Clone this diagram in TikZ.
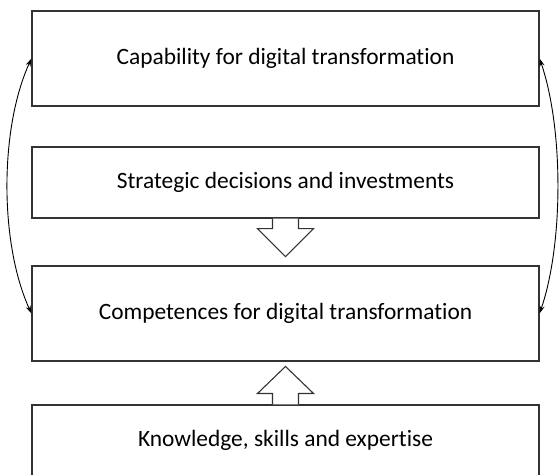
\documentclass[tikz,border=0pt]{standalone}
\usepackage{fontspec}
\setmainfont{Carlito}[Ligatures=NoCommon]
\usetikzlibrary{arrows.meta}
\begin{document}
\begin{tikzpicture}[x=1pt,y=-1pt,
  box/.style={draw=black!80,line width=1.1pt,fill=white,minimum width=507pt,inner sep=0pt,
    font=\fontsize{23.4}{28}\selectfont},
  tallbox/.style={box,minimum height=95pt},
  shortbox/.style={box,minimum height=71pt},
  loop/.style={line width=0.9pt,{Stealth[length=8pt,width=5pt]}-{Stealth[length=8pt,width=5pt]}},
  hollow/.style={draw=black!80,line width=1.1pt,fill=white,line join=miter}]
\useasboundingbox (0,0) rectangle (559,474);
\clip (0,0) rectangle (559,474);
\node[tallbox] (cap) at (285.5,58.5) {Capability for digital transformation};
\node[shortbox] (strat) at (285.5,182.5) {Strategic decisions and investments};
\node[tallbox] (comp) at (285.5,313.5) {Competences for digital transformation};
\node[shortbox] (know) at (285.5,440.5) {Knowledge, skills and expertise};
% hollow arrow down from strat to comp
\fill[white] (strat.south) ++(-13,0) -- ++(0,10) -- ++(-15,0) -- ++(28,28) -- ++(28,-28) -- ++(-15,0) -- ++(0,-10) -- cycle;
\draw[hollow,fill=none] (strat.south) ++(-13,0) -- ++(0,10) -- ++(-15,0) -- ++(28,28) -- ++(28,-28) -- ++(-15,0) -- ++(0,-10);
% hollow arrow up from know to comp
\fill[white] (know.north) ++(-13,0) -- ++(0,-11) -- ++(-15,0) -- ++(28,-27) -- ++(28,27) -- ++(-15,0) -- ++(0,11) -- cycle;
\draw[hollow,fill=none] (know.north) ++(-13,0) -- ++(0,-11) -- ++(-15,0) -- ++(28,-27) -- ++(28,27) -- ++(-15,0) -- ++(0,11);
% curved double arrows
\draw[loop] (cap.west) .. controls +(-32,70) and +(-32,-70) .. (comp.west);
\draw[loop] (cap.east) .. controls +(24,70) and +(24,-70) .. (comp.east);
\end{tikzpicture}
\end{document}
